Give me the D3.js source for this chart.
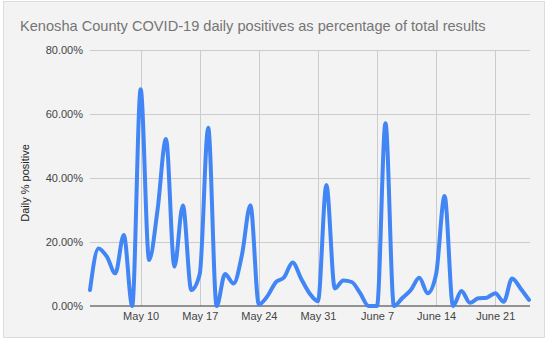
<!DOCTYPE html>
<html><head><meta charset="utf-8">
<script src="https://cdn.jsdelivr.net/npm/d3@7"></script>
<style>
html,body{margin:0;padding:0;background:#fff;}
svg{display:block;font-family:Arial,"Liberation Sans",sans-serif;}
</style></head>
<body>
<svg id="chart" width="550" height="343"></svg>
<script>
const startDate = "2020-05-04";
const values = [5, 18, 15.4, 10.2, 22.2, 0, 67.7, 14.4, 30, 52.2,
  12.3, 31.4, 5, 10, 55.7, 0, 10, 7, 16, 31.5,
  0.5, 3, 7.4, 9, 13.6, 8.6, 4, 1.5, 37.8, 5.5,
  8, 7.5, 4, 0, 0, 57.1, 0, 2.5, 5, 8.8,
  4, 10, 34.4, 0, 4.7, 1, 2.4, 2.6, 4, 1.3,
  8.6, 5.5, 1.9];
const yTicks = [0, 20, 40, 60, 80];
const xTickDates = ["2020-05-10","2020-05-17","2020-05-24","2020-05-31","2020-06-07","2020-06-14","2020-06-21"];
const xTickLabels = ["May 10","May 17","May 24","May 31","June 7","June 14","June 21"];
const chartTitle = "Kenosha County COVID-19 daily positives as percentage of total results";
const yTitle = "Daily % positive";

(function () {
const parse = d3.utcParse("%Y-%m-%d");
const t0 = parse(startDate);
const data = values.map((v, i) => ({date: d3.utcDay.offset(t0, i), v}));

const svg = d3.select("#chart");
svg.append("rect").attr("x", 3.5).attr("y", 1.5).attr("width", 541).attr("height", 336)
  .attr("fill", "#f3f3f3").attr("stroke", "#dcdcdc");

const pl = 90, pr = 529, pt = 50, pb = 306;
const x = d3.scaleUtc().domain([data[0].date, data[data.length-1].date]).range([pl, pr]);
const y = d3.scaleLinear().domain([0, 80]).range([pb, pt]);

svg.append("g").selectAll("line").data(yTicks.filter(d => d > 0)).join("line")
  .attr("x1", pl).attr("x2", pr + 1)
  .attr("y1", d => Math.round(y(d)) + 0.5).attr("y2", d => Math.round(y(d)) + 0.5)
  .attr("stroke", "#cccccc");
const xt = xTickDates.map(parse);
svg.append("g").selectAll("line").data(xt).join("line")
  .attr("x1", d => Math.round(x(d)) + 0.5).attr("x2", d => Math.round(x(d)) + 0.5)
  .attr("y1", pt).attr("y2", pb)
  .attr("stroke", "#cccccc");

const yAxis = d3.axisLeft(y).tickValues(yTicks).tickSize(0).tickPadding(0)
  .tickFormat(d => d.toFixed(2) + "%");
const gy = svg.append("g").attr("transform", "translate(83,0)").call(yAxis);
gy.select(".domain").remove();
gy.selectAll("text").attr("font-size", 11).attr("fill", "#444").attr("font-family", "Arial, 'Liberation Sans', sans-serif");

const xAxis = d3.axisBottom(x).tickValues(xt).tickSize(0).tickPadding(0)
  .tickFormat((d, i) => xTickLabels[i]);
const gx = svg.append("g").attr("transform", "translate(0,312)").call(xAxis);
gx.select(".domain").remove();
gx.selectAll("text").attr("font-size", 11).attr("fill", "#444").attr("font-family", "Arial, 'Liberation Sans', sans-serif");

svg.append("line").attr("x1", pl).attr("x2", pr + 1)
  .attr("y1", pb).attr("y2", pb).attr("stroke", "#333").attr("stroke-width", 1.2);

const line = d3.line().x(d => x(d.date)).y(d => y(d.v)).curve(d3.curveMonotoneX);
svg.append("path").datum(data).attr("d", line)
  .attr("fill", "none").attr("stroke", "#4285f4").attr("stroke-width", 4)
  .attr("stroke-linejoin", "round").attr("stroke-linecap", "round");

svg.append("text").attr("x", 20).attr("y", 31).attr("font-size", 14.6).attr("fill", "#757575")
  .text(chartTitle);
svg.append("text").attr("transform", "translate(29,183) rotate(-90)")
  .attr("text-anchor", "middle").attr("font-size", 11).attr("fill", "#222").text(yTitle);
})();
</script>
</body></html>
